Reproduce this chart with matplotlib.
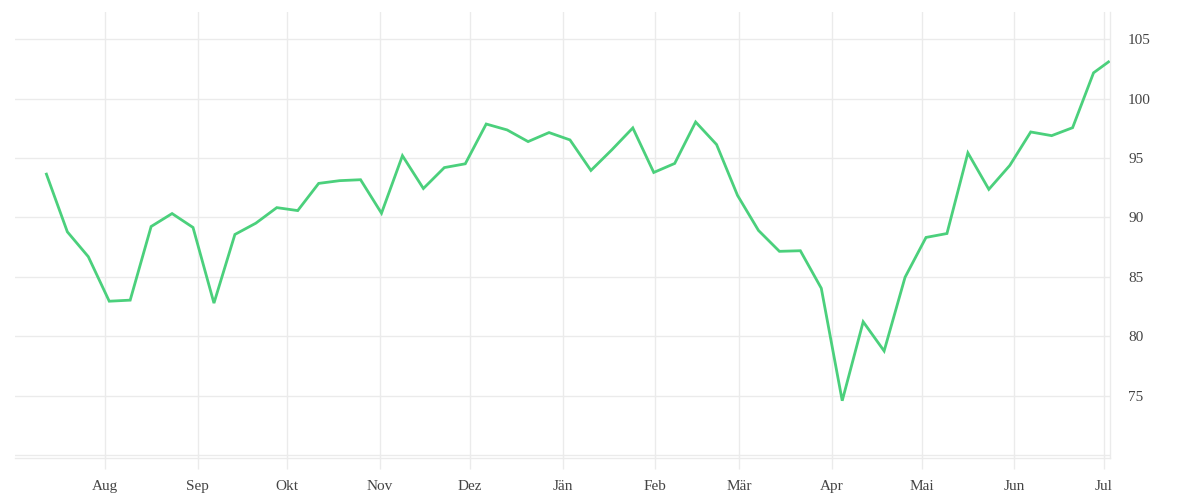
import matplotlib
matplotlib.use("Agg")
import matplotlib.pyplot as plt
import pandas as pd

start_date = "2024-07-12 12:00"
n_weekly = 51
last_date = "2025-07-02 12:00"

values = [93.65, 88.79, 86.70, 82.95, 83.04, 89.24, 90.33, 89.16, 82.79, 88.57,
          89.52, 90.83, 90.58, 92.87, 93.10, 93.18, 90.36, 95.20, 92.44, 94.20,
          94.52, 97.87, 97.37, 96.39, 97.15, 96.53, 93.96, 95.70, 97.54, 93.79,
          94.55, 98.04, 96.14, 91.86, 88.91, 87.15, 87.20, 84.04, 74.57, 81.22,
          78.76, 84.97, 88.32, 88.65, 95.44, 92.37, 94.38, 97.20, 96.89, 97.56,
          102.18, 103.10]

month_labels = ["Aug", "Sep", "Okt", "Nov", "Dez", "Jän", "Feb", "Mär", "Apr", "Mai", "Jun", "Jul"]
month_ticks = pd.date_range("2024-08-01", periods=12, freq="MS")
y_ticks = [70, 75, 80, 85, 90, 95, 100, 105]
y_ticklabels = ["", "75", "80", "85", "90", "95", "100", "105"]

dates = list(pd.date_range(start_date, periods=n_weekly, freq="7D")) + [pd.Timestamp(last_date)]

grid_c = "#ebebeb"
text_c = "#444444"
line_c = "#4bd07c"

plt.rcParams["font.family"] = ["Liberation Serif", "DejaVu Serif"]

fig = plt.figure(figsize=(12, 5), dpi=100)
ax = fig.add_axes([0.0125, 0.084, 0.9125, 0.892])

ax.plot(dates, values, color=line_c, linewidth=2.0, solid_joinstyle="miter", zorder=3)

ax.set_xlim(pd.Timestamp("2024-07-02"), pd.Timestamp("2025-07-03"))
ax.set_ylim(69.75, 107.3)

ax.set_xticks(month_ticks)
ax.set_xticklabels(month_labels)
ax.set_yticks(y_ticks)
ax.set_yticklabels(y_ticklabels)

ax.yaxis.tick_right()
ax.grid(True, color=grid_c, linewidth=1.0, zorder=0)
ax.tick_params(axis="x", length=8, width=1.0, color=grid_c, labelsize=11, labelcolor=text_c, pad=8)
ax.tick_params(axis="y", length=0, labelsize=11, labelcolor=text_c, pad=13)

for side in ["top", "left"]:
    ax.spines[side].set_visible(False)
for side in ["bottom", "right"]:
    ax.spines[side].set_color(grid_c)
    ax.spines[side].set_linewidth(1.0)

fig.savefig("out.png", dpi=100, facecolor="white")
